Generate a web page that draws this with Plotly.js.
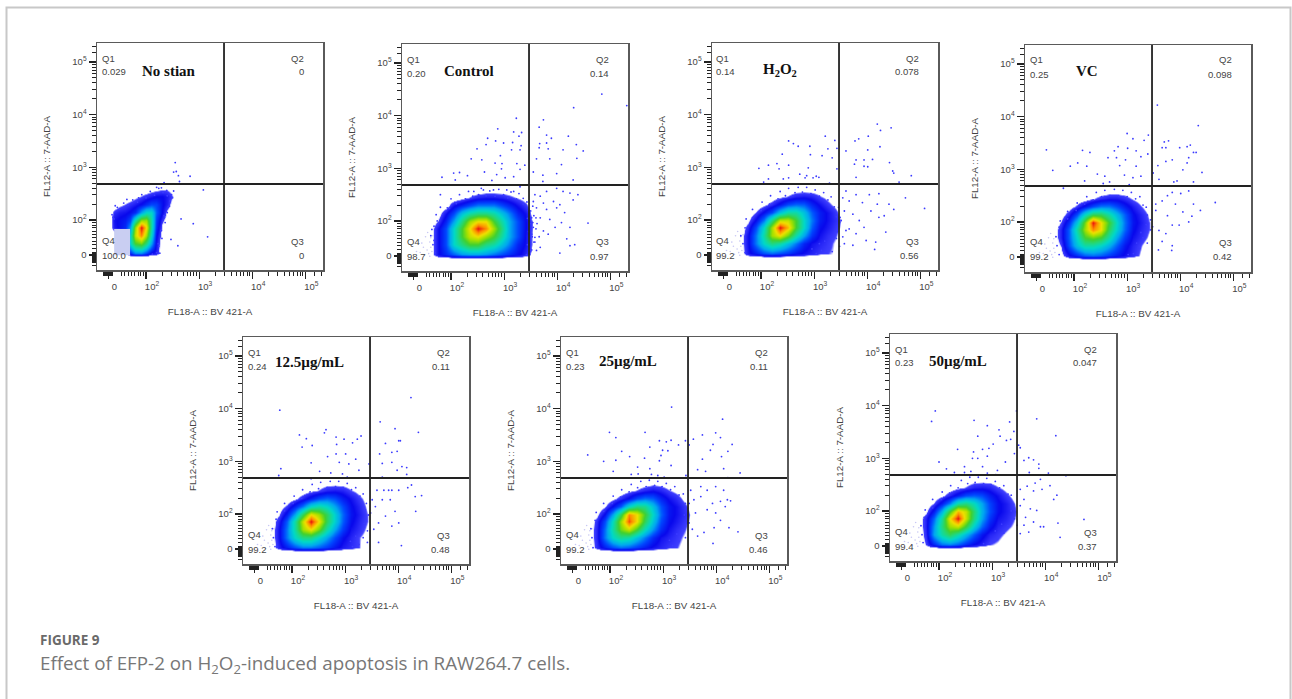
<!DOCTYPE html>
<html><head><meta charset="utf-8">
<script src="https://cdn.plot.ly/plotly-3.0.1.min.js"></script>
<style>html,body{margin:0;padding:0;background:#fff;overflow:hidden}#c{width:1292px;height:699px}</style>
</head><body><div id="c"></div>
<script>
// All scatter values are display decades (log10 of fluorescence above 10^2; "0" sits at the tick given below).
var sampleNames = ['No stian','Control','H<sub>2</sub>O<sub>2</sub>','VC','12.5µg/mL','25µg/mL','50µg/mL'];
var q1Values = ['0.029','0.20','0.14','0.25','0.24','0.23','0.23'];
var q2Values = ['0','0.14','0.078','0.098','0.11','0.11','0.047'];
var q3Values = ['0','0.97','0.56','0.42','0.48','0.46','0.37'];
var q4Values = ['100.0','98.7','99.2','99.2','99.2','99.2','99.4'];
var xTickVals = [1.29,2,3,4,5], yTickVals = [1.335,2,3,4,5];
var tickText = ['0','10<sup>2</sup>','10<sup>3</sup>','10<sup>4</sup>','10<sup>5</sup>'];
var gateX = 3.469, gateY = 2.683;

var noStainGridX = [1.3,1.4,1.5,1.6,1.7,1.8,1.9,2.0,2.1,2.2,2.3,2.4,2.5,2.6];
var noStainGridY = [1.3,1.36,1.55,1.7,1.85,2.0,2.15,2.3,2.45,2.6];
var noStainDensity = [
[0,0,0,0,0,0,0,0,0,0,0,0,0,0],
[0,0,0,0,1.5,2.5,2.5,1.8,1,.8,0,0,0,0],
[0,0,0,0,4,6,6.5,5,3,1,0,0,0,0],
[0,0,0,0,4,7.5,9,7,4,1.2,.2,0,0,0],
[0,.9,1.2,1.6,3,7,10,8,4.5,1.6,.3,0,0,0],
[0,1,1.2,1.4,2,4.5,7,7,4.5,1.8,.6,.1,0,0],
[0,.7,.9,1,1.2,1.6,3,4,4,2.2,1.1,.3,0,0],
[0,0,.3,.5,.7,.9,1.2,1.6,2,1.9,1.2,.8,.2,0],
[0,0,0,0,.1,.3,.5,.7,.9,1.1,1.1,.9,.5,.1],
[0,0,0,0,0,0,0,0,.1,.2,.35,.35,.2,0]];

var cloudGridX = [1.6,1.75,1.9,2.05,2.2,2.35,2.5,2.65,2.8,2.95,3.1,3.25,3.4,3.55];
var cloudGridY = [1.28,1.36,1.55,1.7,1.85,2.0,2.15,2.3,2.45,2.6];
var controlDensity = [
[0,0,0,0,0,0,0,0,0,0,0,0,0,0],
[0,1,1.6,2.2,2.8,3,3,2.8,2.4,2,1.6,1.2,.8,.2],
[0,1,2,4,5,6,6,5,4.5,3.5,2.5,1.5,1,.3],
[0,1,2,4,6,7.5,8,7,6,4.5,3,2,1,.3],
[0,1,2,4,6,8,10,9,7,5,3,2,1.1,.3],
[0,.5,1.5,3,5,7,8,8,6,4.5,3,2,1.1,.3],
[0,.1,1,2,3.5,4.5,5,5,4.5,3.5,2.5,1.5,1,.1],
[0,0,.1,1,1.5,2,2.5,2.5,2.5,2,1.5,1,.6,0],
[0,0,0,0,.2,.5,.8,.9,.9,.8,.6,.4,.2,0],
[0,0,0,0,0,0,0,.1,.1,.1,.1,0,0,0]];
var h2o2Density = [
[0,0,0,0,0,0,0,0,0,0,0,0,0,0],
[0,.9,1.4,2,2.3,2,1.7,1.3,1,.8,.6,.5,.4,.1],
[0,1,2.5,4,5,4.5,3.5,2.5,1.5,1,.8,.6,.4,.1],
[0,1,2.5,4.5,7,8,6.5,4.5,3,1.7,1,.7,.5,.2],
[0,.7,2,4,7,10,8.5,6,4,2.2,1.2,.9,.6,.3],
[0,.3,1.2,2.5,5,7.5,7.5,6,4,2.5,1.4,1,.7,.3],
[0,0,.5,1.2,2,3.5,4.5,4.5,3.5,2.2,1.4,1,.6,.1],
[0,0,0,.3,.7,1.3,2,2.3,2.2,1.5,1,.6,.3,0],
[0,0,0,0,.1,.3,.5,.8,.9,.8,.5,.3,.1,0],
[0,0,0,0,0,0,0,.1,.1,.1,.1,0,0,0]];
var vcDensity = [
[0,0,0,0,0,0,0,0,0,0,0,0,0,0],
[0,.2,1,1.6,2.2,2.4,2.2,1.8,1.4,1,.7,.4,.1,0],
[0,.5,2,3.5,4.5,4.5,4,3.2,2.2,1.3,.8,.5,.2,0],
[0,.8,2.2,4,6,6.5,6,4.5,3,1.8,1,.7,.4,.1],
[0,.8,2.2,4.5,7,9,8,5.5,3.8,2.3,1.2,.8,.5,.2],
[0,.5,1.6,3.5,6.5,10,8,6,4,2.4,1.3,.9,.5,.2],
[0,.1,.8,2,4,5.5,5.5,4.5,3.3,2.2,1.2,.8,.4,.1],
[0,0,.1,.6,1.3,2,2.5,2.5,2,1.4,.9,.5,.2,0],
[0,0,0,0,.1,.4,.7,.9,.9,.7,.4,.2,0,0],
[0,0,0,0,0,0,0,.1,.1,.1,0,0,0,0]];
var dose12Density = [
[0,0,0,0,0,0,0,0,0,0,0,0,0,0],
[0,.8,1.4,2,2.5,2.5,2.2,1.8,1.3,.9,.7,.5,.2,0],
[0,1,2.5,4,5,5,4,3,2,1.2,.8,.5,.3,0],
[0,1,2.5,4.5,7,8,6.5,4.5,3,1.8,1,.7,.4,.1],
[0,.8,2.2,4.5,7.5,10,8,5.5,3.8,2.2,1.2,.8,.5,.2],
[0,.4,1.4,3,5.5,8,7,5.5,3.8,2.3,1.3,.9,.5,.2],
[0,.1,.6,1.5,2.5,4,4.5,4,3,2,1.2,.8,.4,.1],
[0,0,0,.3,.8,1.4,2,2.3,2,1.4,1,.6,.3,0],
[0,0,0,0,.1,.3,.5,.8,.9,.8,.5,.3,.1,0],
[0,0,0,0,0,0,.1,.2,.2,.2,.1,.1,0,0]];
var dose25Density = [
[0,0,0,0,0,0,0,0,0,0,0,0,0,0],
[0,.7,1.4,2,2.4,2.2,1.8,1.4,1,.8,.6,.5,.3,0],
[0,.8,2.5,4,4.8,4.5,3.5,2.5,1.6,1,.8,.6,.4,.1],
[0,.8,2.4,4.5,6.5,7.5,6,4.2,2.8,1.6,1,.7,.5,.2],
[0,.7,2,4.2,7,9.5,8,5.5,3.6,2,1.2,.9,.6,.3],
[0,.3,1.2,3,5.5,9,8,6,4,2.3,1.3,1,.7,.3],
[0,0,.4,1.2,2.2,4,5,4.8,3.5,2.1,1.3,1,.6,.2],
[0,0,0,.3,.7,1.2,2,2.4,2.2,1.5,1,.7,.3,0],
[0,0,0,0,.1,.3,.5,.8,1,.8,.5,.3,.1,0],
[0,0,0,0,0,0,0,.1,.2,.2,.1,0,0,0]];
var dose50Density = [
[0,0,0,0,0,0,0,0,0,0,0,0,0,0],
[0,.5,1.5,2.4,2.6,2.2,1.6,1.1,.8,.5,.4,.2,0,0],
[0,.7,3,4.5,5.5,4.5,3.3,2.2,1.3,.8,.6,.4,.2,0],
[0,.8,2.8,5,7,7.5,5.8,3.8,2.3,1.3,.8,.6,.4,.1],
[0,.8,2.3,4.6,8,10,7.5,5,3,1.7,1,.8,.5,.2],
[0,.3,1.4,3.2,6,8.5,7.5,5.2,3.2,2,1.2,.9,.6,.2],
[0,0,.5,1.4,2.6,4.5,5,4.2,3,1.9,1.2,.9,.5,.1],
[0,0,0,.3,.8,1.4,2,2.2,2,1.4,1,.6,.3,0],
[0,0,0,0,.1,.3,.5,.8,.9,.8,.5,.3,.1,0],
[0,0,0,0,0,0,.1,.2,.2,.2,.1,.1,0,0]];

var noStainEvents = [[2.55,3.09],[2.52,2.91],[2.61,2.84],[2.57,2.92],[2.83,2.83],[2.63,2.73],[2.34,2.71],[2.42,2.68],[3.08,2.57],[2.66,2.02],[2.89,1.93],[3.16,1.68],[2.47,1.63],[2.6,1.51],[2.2,2.62],[2.29,2.61],[2.39,2.56],[2.48,2.48],[2.45,2.36],[2.35,2.05],[2.29,1.8],[2.23,1.55],[2.26,1.37],[1.86,2.42],[1.64,2.39],[1.42,2.27],[1.38,2.05],[2.52,2.55],[2.5,2.42],[2.42,2.25],
[1.4,2.02],[1.36,2.1],[1.46,2.24],[1.5,2.2],[1.58,2.32],[1.66,2.28],[1.75,2.38],[1.84,2.34],[1.92,2.48],[2,2.42],[2.08,2.54],[2.16,2.47],[2.24,2.6],[2.32,2.52],[2.4,2.46],[2.46,2.36],[2.44,2.26],[2.4,2.14],[2.34,2.08],[2.36,1.95],[2.28,1.8],[2.3,1.65],[2.24,1.5],[2.2,1.38],[2.12,1.35]];
var controlEvents = [[4.84,4.41],[5.31,4.19],[4.31,4.15],[3.23,3.95],[3.74,3.92],[2.88,3.75],[3.66,3.78],[3.18,3.69],[3.33,3.68],[3.28,3.61],[2.69,3.57],[3.8,3.63],[3.89,3.57],[4.21,3.61],[2.84,3.52],[2.66,3.45],[2.99,3.48],[3.16,3.49],[3.32,3.43],[3.67,3.47],[3.8,3.48],[4.36,3.45],[2.49,3.37],[3.66,3.39],[3.83,3.37],[4.11,3.35],[4.49,3.33],[3.14,3.35],[3.3,3.35],[2.38,3.18],[2.58,3.16],[2.93,3.24],[3.61,3.18],[3.86,3.18],[4.37,3.19],[2.83,3.1],[2.96,3.09],[3.24,3.09],[3.39,3.06],[4.08,3.07],[2.05,2.91],[2.16,2.92],[2.63,2.93],[2.95,2.99],[3.3,2.98],[1.83,2.83],[2.08,2.78],[2.31,2.86],[2.86,2.88],[3.18,2.84],[3.55,2.93],[3.73,2.87],[3.99,2.9],[4.3,2.78],[2.77,2.77],[3.02,2.82],[3.73,2.75],
[3.58,2.5],[3.68,2.47],[3.8,2.56],[3.99,2.62],[4.11,2.56],[4.24,2.53],[4.39,2.5],[4.3,2.4],[3.55,2.37],[3.74,2.34],[3.93,2.37],[4.05,2.31],[4.14,2.16],[4.58,1.96],[3.61,2.25],[3.8,2.22],[3.99,2.25],[3.68,2.06],[3.86,2.03],[3.96,1.88],[4.08,1.97],[4.24,1.88],[4.24,1.53],[4.33,1.55],[3.58,1.69],[3.68,1.5],[3.74,1.81],[4.05,1.39],[3.61,1.44],[3.83,1.75],[4.18,1.66],[3.5,2.19],[3.52,2.06],[3.55,1.88],[3.52,1.75],[3.56,1.6],[3.49,1.5],[3.54,1.97],[3.6,2.06],
[2.43,2.56],[2.61,2.59],[2.8,2.59],[3.05,2.59],[3.18,2.56],[3.3,2.65],[1.8,2.5],[1.93,2.25],[1.74,2.0],[1.64,1.84],[1.68,1.63],[3.36,2.43],
[1.7,1.4],[1.66,1.55],[1.62,1.72],[1.68,1.9],[1.72,2.12],[1.84,2.13],[1.8,2.26],[1.97,2.24],[2.0,2.42],[2.1,2.33],[2.16,2.5],[2.27,2.42],[2.33,2.56],[2.41,2.47],[2.52,2.5],[2.57,2.62],[2.66,2.48],[2.73,2.57],[2.83,2.47],[2.9,2.6],[2.99,2.5],[3.07,2.44],[3.13,2.55],[3.23,2.42],[3.28,2.52],[3.36,2.32],[3.43,2.36],[3.46,2.2],[3.44,2.05],[3.5,1.95],[3.46,1.8],[3.53,1.7],[3.44,1.55],[3.5,1.42],[3.42,1.36],[3.6,1.85],[3.56,2.1],[3.62,1.95],[3.54,2.28],[3.66,1.7],[3.52,1.45],[3.58,1.6]];
var h2o2Events = [[4.19,3.82],[4.45,3.75],[4.25,3.7],[3.21,3.59],[2.52,3.5],[2.61,3.45],[2.7,3.4],[2.92,3.4],[3.39,3.51],[3.77,3.5],[3.84,3.54],[4.02,3.59],[3.26,3.35],[3.43,3.36],[3.6,3.31],[4.01,3.33],[4.24,3.39],[2.4,3.25],[2.93,3.24],[3.15,3.22],[3.34,3.18],[3.79,3.14],[3.94,3.14],[4.1,3.15],[2.14,3.04],[2.3,3.07],[2.52,3.04],[1.96,2.98],[2.34,2.97],[2.89,2.99],[3.43,2.97],[3.76,3.06],[3.94,3.02],[4.01,3.01],[4.42,3.09],[4.48,2.93],[4.5,2.89],[4.83,2.84],[2.73,2.87],[2.86,2.84],[3.04,2.83],[2.14,2.78],[2.42,2.78],[2.52,2.8],[2.83,2.8],[2.98,2.8],[3.09,2.81],[3.79,2.81],[4.6,2.72],[2.05,2.72],[3.29,2.7],
[4.72,2.42],[5.08,2.22],[4.22,2.5],[4.41,2.3],[4.5,2.2],[4.04,2.48],[3.91,2.33],[4.19,2.3],[4.07,2.17],[4.35,1.77],[3.98,1.61],[4.16,1.58],[4.14,1.44],[3.73,1.52],[3.54,2.42],[3.6,2.55],[3.66,2.36],[3.79,2.48],[3.57,2.17],[3.73,2.11],[3.85,1.99],[3.51,1.99],[3.66,1.83],[3.54,1.68],[3.49,2.05],[3.6,1.8],[4.32,2.08],[4.22,2.05],[3.94,1.86],[3.57,1.55],[3.79,1.74],
[1.7,1.38],[1.66,1.55],[1.62,1.7],[1.7,1.85],[1.72,2.02],[1.84,2.04],[1.84,2.2],[2,2.18],[2.02,2.34],[2.16,2.3],[2.18,2.46],[2.32,2.4],[2.36,2.54],[2.46,2.46],[2.52,2.6],[2.64,2.52],[2.7,2.62],[2.78,2.53],[2.86,2.62],[2.94,2.5],[3.02,2.57],[3.1,2.45],[3.18,2.52],[3.26,2.38],[3.32,2.44],[3.38,2.25],[3.46,2.24],[3.42,2.06],[3.48,1.95],[3.44,1.78],[3.42,1.65],[3.48,1.5],[3.34,1.4],[3.24,1.38],[3.14,1.42],[3.04,1.36],[2.96,1.45],[3.3,1.55],[3.2,1.6],[3.1,1.55]];
var vcEvents = [[3.57,4.22],[4.34,3.83],[3,3.68],[3.11,3.58],[3.32,3.55],[3.4,3.65],[3.78,3.54],[3.7,3.52],[1.48,3.37],[2.16,3.36],[2.3,3.32],[2.83,3.43],[2.76,3.35],[3.01,3.4],[3.17,3.35],[3.66,3.41],[3.73,3.41],[3.99,3.41],[4.19,3.46],[4.13,3.43],[4.3,3.32],[4.25,3.32],[2.64,3.22],[2.8,3.22],[2.97,3.18],[3.39,3.29],[3.26,3.24],[3.85,3.18],[4.16,3.22],[2.07,3.12],[2.24,3.06],[1.93,3.06],[1.6,2.98],[2.86,3.07],[3.17,3.06],[3.58,3.07],[3.73,3.15],[4.13,3.12],[4.05,2.99],[4.41,2.94],[3.49,2.93],[2.44,2.91],[2.2,2.78],[2.58,2.87],[2.95,2.89],[3.11,2.84],[3.26,2.87],[3.6,2.81],[3.88,2.76],[3.94,2.78],[4.25,2.76],[2.55,2.73],[3.04,2.71],[2.67,2.76],[1.8,2.64],
[4.66,2.37],[4.16,2.59],[4.01,2.54],[3.85,2.56],[3.76,2.5],[3.66,2.4],[3.54,2.34],[3.91,2.34],[4.25,2.34],[4.38,2.22],[4.16,2],[3.98,1.94],[3.85,1.94],[3.6,1.84],[3.48,1.91],[3.76,2.12],[3.54,2.22],[3.66,1.63],[3.85,1.55],[3.59,1.47],[3.84,1.46],[3.73,1.78],[4.22,2.11],[4.05,2.19],
[1.72,1.38],[1.68,1.55],[1.66,1.72],[1.72,1.9],[1.74,2.02],[1.88,2.06],[1.88,2.2],[2.04,2.22],[2.06,2.36],[2.2,2.34],[2.24,2.48],[2.36,2.42],[2.42,2.56],[2.52,2.48],[2.58,2.6],[2.68,2.5],[2.76,2.62],[2.84,2.5],[2.92,2.6],[3,2.48],[3.08,2.56],[3.16,2.44],[3.24,2.48],[3.3,2.32],[3.36,2.28],[3.38,2.13],[3.44,2.04],[3.36,1.95],[3.44,1.85],[3.3,1.7],[3.38,1.6],[3.24,1.5],[3.12,1.4],[3.02,1.38],[3.18,1.6],[3.26,1.8]];
var dose12Events = [[1.77,3.97],[4.24,4.21],[3.66,3.75],[3.94,3.62],[4.38,3.55],[2.64,3.6],[2.14,3.5],[2.27,3.43],[2.61,3.54],[2.83,3.46],[2.98,3.42],[3.14,3.35],[3.3,3.48],[3.23,3.42],[2.19,3.27],[2.38,3.3],[2.84,3.32],[3.76,3.34],[3.88,3.17],[4.01,3.39],[4.04,3.39],[3.65,3.14],[3.98,3.19],[2.67,3.09],[2.83,3.14],[3.01,3.14],[2.36,2.97],[2.89,2.98],[3.07,2.95],[3.45,2.95],[3.2,3.04],[3.7,2.96],[3.88,2.98],[4.07,2.9],[4.16,2.88],[1.79,2.86],[1.75,2.73],[2.52,2.81],[2.73,2.78],[2.95,2.76],[3.26,2.83],[3.7,2.7],[4.16,2.75],[3.98,2.83],[3.04,2.7],[2.36,2.67],
[4.44,2.35],[4.25,2.55],[4.18,2.5],[4.32,2.33],[4.33,2.05],[4.06,1.4],[3.88,2.45],[4.01,2.45],[3.73,2.45],[3.6,2.45],[3.51,2.27],[3.7,2.27],[3.85,2.27],[3.94,2.05],[4.01,1.83],[3.63,1.83],[3.76,1.96],[3.48,2.02],[3.54,1.71],[3.63,1.46],[3.42,1.46],[3.88,1.77],[3.57,2.14],[3.82,2.45],
[1.68,1.38],[1.65,1.55],[1.63,1.72],[1.7,1.9],[1.72,2.04],[1.86,2.06],[1.86,2.2],[2.02,2.2],[2.04,2.34],[2.18,2.3],[2.2,2.46],[2.34,2.42],[2.38,2.56],[2.5,2.48],[2.54,2.6],[2.66,2.5],[2.72,2.62],[2.82,2.52],[2.88,2.62],[2.96,2.5],[3.04,2.58],[3.12,2.46],[3.2,2.5],[3.28,2.34],[3.34,2.38],[3.4,2.2],[3.38,2.08],[3.44,1.98],[3.36,1.82],[3.42,1.68],[3.34,1.55],[3.26,1.42],[3.14,1.38],[3.2,1.58],[3.1,1.48]];
var dose25Events = [[3.16,4.03],[4.12,3.8],[2.66,3.55],[1.99,3.55],[2.11,3.45],[3.99,3.54],[4.08,3.45],[3.74,3.5],[2.93,3.39],[3.06,3.37],[3.15,3.4],[3.29,3.31],[3.42,3.39],[3.57,3.42],[3.94,3.32],[4.3,3.32],[2.75,3.27],[2.99,3.21],[3.09,3.2],[2.22,3.19],[1.58,3.12],[3.49,3.31],[3.89,3.21],[4.22,3.19],[2.96,3.11],[2.37,3.09],[4.1,3.09],[1.88,3],[2.11,3.02],[2.65,3.06],[2.93,3.01],[3.15,2.92],[3.74,3.04],[2.06,2.81],[2.52,2.89],[2.75,2.86],[3.65,2.84],[3.8,2.81],[4.14,2.86],[4.45,2.78],[3.43,2.73],[2.78,2.75],[2.9,2.73],[2.4,2.75],[2.53,2.76],[3.02,2.7],[4.22,2.69],
[4.27,2.25],[4.21,2.27],[4.08,2.24],[4.24,1.74],[4.41,1.66],[3.94,1.44],[4.08,1.88],[3.96,1.74],[3.83,2.08],[3.71,2.33],[3.83,2.45],[3.71,2.52],[3.52,2.45],[3.58,2.27],[3.49,2.2],[3.61,2.02],[3.55,1.71],[3.65,1.58],[3.77,1.65],[3.49,1.83],[3.93,2.2],[3.99,2.52],[4.14,2.45],[4.17,2.14],[3.99,2.02],[3.46,2.02],
[1.68,1.36],[1.66,1.55],[1.64,1.72],[1.72,1.88],[1.74,2.03],[1.88,2.05],[1.88,2.2],[2.04,2.2],[2.06,2.34],[2.2,2.32],[2.22,2.46],[2.36,2.42],[2.4,2.56],[2.52,2.5],[2.58,2.62],[2.68,2.52],[2.74,2.64],[2.84,2.54],[2.9,2.62],[2.98,2.52],[3.06,2.58],[3.14,2.46],[3.22,2.52],[3.3,2.36],[3.38,2.38],[3.42,2.2],[3.46,2.1],[3.4,1.98],[3.46,1.84],[3.36,1.7],[3.42,1.55],[3.3,1.48],[3.18,1.4],[3.26,1.62],[3.12,1.5]];
var dose50Events = [[1.93,3.9],[1.86,3.7],[2.66,3.72],[2.91,3.62],[3.33,3.69],[3.84,3.75],[3.46,3.9],[3.13,3.54],[3.15,3.42],[2.73,3.42],[3.41,3.51],[4.2,3.43],[3.27,3.34],[3.35,3.36],[3.02,3.27],[3.5,3.25],[3.53,3.2],[2.65,3.12],[2.82,3.17],[2.35,3.17],[2.94,3.19],[3.42,3.09],[2,2.93],[2.63,3],[2.91,3.04],[2.73,3],[3.6,2.96],[3.69,3.01],[3.78,2.97],[3.88,2.89],[3.88,2.81],[3.25,2.93],[2.48,2.84],[2.82,2.84],[3.1,2.77],[2.14,2.8],[2.48,2.73],[2.6,2.75],[3.7,2.73],[4.06,2.72],[4.39,2.67],[1.67,2.68],[2.29,2.73],[2.91,2.72],[3.07,2.69],
[4.73,1.84],[4.28,1.5],[4.24,1.77],[4.16,2.22],[4.22,2.3],[4.09,2.48],[3.94,2.41],[3.78,2.38],[3.66,2.47],[3.53,2.41],[3.81,2.53],[3.91,2.6],[3.6,2.22],[3.72,2.04],[3.84,2.01],[3.53,2.1],[3.63,1.88],[3.91,1.7],[3.53,1.57],[3.69,1.6],[3.47,1.73],[3.97,1.7],[3.78,1.79],[3.6,1.73],
[1.7,1.4],[1.68,1.55],[1.66,1.72],[1.72,1.88],[1.74,2.02],[1.88,2.06],[1.88,2.22],[2.04,2.22],[2.06,2.36],[2.2,2.34],[2.22,2.48],[2.36,2.44],[2.42,2.58],[2.54,2.52],[2.58,2.64],[2.68,2.54],[2.74,2.64],[2.84,2.52],[2.9,2.62],[2.98,2.5],[3.06,2.56],[3.14,2.44],[3.22,2.48],[3.3,2.32],[3.36,2.3],[3.4,2.12],[3.36,2],[3.42,1.85],[3.3,1.72],[3.22,1.58],[3.1,1.48],[2.96,1.4],[2.84,1.38],[3.06,1.62],[3.18,1.75]];
var faintEvents = [[1.42,1.4],[1.48,1.5],[1.55,1.45],[1.6,1.6],[1.52,1.7],[1.58,1.38],[1.62,1.5],[1.64,1.42],[1.45,1.58],[1.56,1.78],[1.66,1.72],[1.5,1.35],[1.35,1.42],[1.62,1.68],[1.6,1.33]];

var densities = [noStainDensity,controlDensity,h2o2Density,vcDensity,dose12Density,dose25Density,dose50Density];
var events = [noStainEvents,controlEvents,h2o2Events,vcEvents,dose12Events,dose25Events,dose50Events];

// Plot frames on the page, in pixels: left, top
var frames = [[97,43],[402,44],[712,43],[1025,45],[243,337],[561,337],[890,334]];
var W=1292,H=699,PW=226,PH=227;
var jet = [[0,'#ffffff'],[0.044,'#ffffff'],[0.05,'#4040ff'],[0.11,'#0808ec'],[0.2,'#0048ff'],[0.3,'#00a8f0'],[0.4,'#00d8c8'],[0.5,'#20d880'],[0.6,'#40d030'],[0.7,'#a0e000'],[0.8,'#f0e000'],[0.9,'#ff8c00'],[1,'#e81010']];

var minorX=[],minorY=[],d;
[2,3,4].forEach(function(dec){[2,3,4,5,6,7,8,9].forEach(function(m){var v=dec+Math.log10(m);minorX.push(v);minorY.push(v);});});
minorX.push(5.3,5.18);minorY.push(5.3,5.18);
[1.53,1.6,1.67,1.73,1.79,1.85,1.9,1.95].forEach(function(v){minorX.push(v);minorY.push(v);});
for(d=1.19;d<1.39;d+=0.017){minorX.push(d);}
for(d=1.2;d<1.39;d+=0.017){minorY.push(d);}
minorY.push(1.45,1.13);

var traces=[],shapes=[],annotations=[];
var SANS='"Liberation Sans",Arial,sans-serif';
var layout={width:W,height:H,margin:{l:0,r:0,t:0,b:0},paper_bgcolor:'#fff',plot_bgcolor:'#fff',showlegend:false,hovermode:false,font:{family:SANS,size:9.5,color:'#333'}};

function axis(dom,range,tv,anchor,isX,title){
  var a={domain:dom,range:range,anchor:anchor,type:'linear',tickmode:'array',tickvals:tv,ticktext:tickText,ticks:'outside',ticklen:7,tickwidth:1.2,tickcolor:'#222',
    showgrid:false,zeroline:false,showline:true,mirror:true,linecolor:'#5a5a5a',linewidth:1.5,
    minor:{tickmode:'array',tickvals:isX?minorX:minorY,ticks:'outside',ticklen:4,tickwidth:1,tickcolor:'#222',showgrid:false},
    tickfont:{family:SANS,size:9.5,color:'#444'},
    title:{text:title,font:{family:SANS,size:9.8,color:'#444'},standoff:isX?17:20},automargin:false};
  if(isX) a.ticklabelshift=6;
  return a;
}

frames.forEach(function(f,i){
  var sfx=i===0?'':String(i+1), xn='x'+sfx, yn='y'+sfx;
  var xR=[1.077,1.077+PW/53.1], yR=[1.05,1.05+PH/52.67];
  layout['xaxis'+sfx]=axis([f[0]/W,(f[0]+PW)/W],xR,xTickVals,yn,true,'FL18-A :: BV 421-A');
  layout['yaxis'+sfx]=axis([1-(f[1]+PH)/H,1-f[1]/H],yR,yTickVals,xn,false,'FL12-A :: 7-AAD-A');
  var gx=i===0?noStainGridX:cloudGridX, gy=i===0?noStainGridY:cloudGridY;
  if(i>0) traces.push({type:'scatter',mode:'markers',x:faintEvents.map(function(p){return p[0];}),y:faintEvents.map(function(p){return p[1];}),xaxis:xn,yaxis:yn,marker:{size:1.6,color:'#c8c8f4'},hoverinfo:'skip'});
  traces.push({type:'heatmap',x:gx,y:gy,z:densities[i],zmin:0,zmax:10,zsmooth:'best',colorscale:jet,showscale:false,xaxis:xn,yaxis:yn,hoverinfo:'skip'});
  traces.push({type:'scatter',mode:'markers',x:events[i].map(function(p){return p[0];}),y:events[i].map(function(p){return p[1];}),xaxis:xn,yaxis:yn,marker:{size:1.8,color:'#3a3aff'},hoverinfo:'skip'});
  if(i===0) shapes.push({type:'rect',xref:xn,yref:yn,x0:1.4,x1:1.7,y0:1.33,y1:1.83,fillcolor:'#c9cef2',line:{width:0},layer:'above'});
  shapes.push({type:'line',xref:xn,yref:yn,x0:gateX,x1:gateX,y0:yR[0],y1:yR[1],line:{color:'#222',width:1.8},layer:'above'});
  shapes.push({type:'line',xref:xn,yref:yn,x0:xR[0],x1:xR[1],y0:gateY,y1:gateY,line:{color:'#222',width:1.8},layer:'above'});
  function t(x,y,txt,anchor){annotations.push({xref:'paper',yref:'paper',x:(f[0]+x)/W,y:1-(f[1]+y)/H,text:txt,showarrow:false,xanchor:anchor,yanchor:'middle',font:{family:SANS,size:9.5,color:'#444'}});}
  t(2.5,15,'Q1','left');t(2.5,29,q1Values[i],'left');
  t(209,15,'Q2','right');t(209,29,q2Values[i],'right');
  t(209,198,'Q3','right');t(209,212,q3Values[i],'right');
  t(2.5,197,'Q4','left');t(2.5,212,q4Values[i],'left');
});
var labelCentres=[[169,71],[469,71],[780,70],[1087,71],[309,362],[628,361],[958,361]];
labelCentres.forEach(function(c,i){annotations.push({xref:'paper',yref:'paper',x:c[0]/W,y:1-c[1]/H,text:'<b>'+sampleNames[i]+'</b>',showarrow:false,xanchor:'center',yanchor:'middle',font:{family:'"Liberation Serif","Times New Roman",serif',size:15,color:'#111'}});});

annotations.push({xref:'paper',yref:'paper',x:38/W,y:1-640/H,text:'<b>FIGURE 9</b>',showarrow:false,xanchor:'left',yanchor:'middle',font:{family:'"Open Sans",sans-serif',size:13.5,color:'#6a6a6a'}});
annotations.push({xref:'paper',yref:'paper',x:38/W,y:1-664/H,text:'Effect of EFP-2 on H<sub>2</sub>O<sub>2</sub>-induced apoptosis in RAW264.7 cells.',showarrow:false,xanchor:'left',yanchor:'middle',font:{family:'"Open Sans",sans-serif',size:18.8,color:'#777'}});
shapes.push({type:'path',xref:'paper',yref:'paper',path:'M '+6.5/W+' 0 L '+6.5/W+' '+(1-7.5/H)+' L '+1290.5/W+' '+(1-7.5/H)+' L '+1290.5/W+' 0',line:{color:'#c8c8c8',width:2},layer:'below'});
layout.shapes=shapes;layout.annotations=annotations;
Plotly.newPlot('c',traces,layout,{displayModeBar:false,staticPlot:true});
</script></body></html>
